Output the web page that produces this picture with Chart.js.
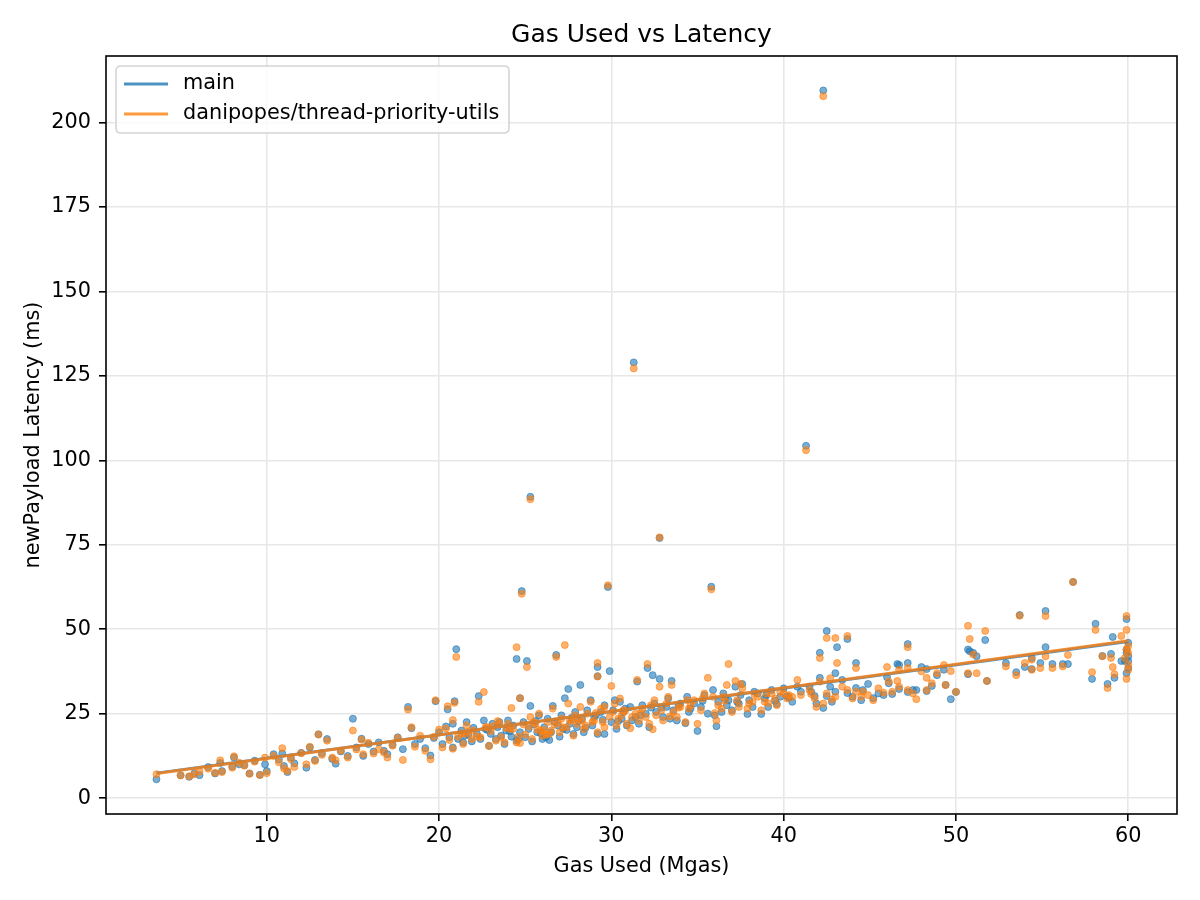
<!DOCTYPE html>
<html>
<head>
<meta charset="utf-8">
<script src="https://cdn.jsdelivr.net/npm/chart.js@4"></script>
<style>
html,body{margin:0;padding:0;background:#fff;}
#wrap{width:1200px;height:900px;}
</style>
</head>
<body>
<div id="wrap"><canvas id="c" width="1200" height="900"></canvas></div>
<script>
// ---- data ----
const gas = [
3.6,5.0,5.5,5.8,6.1,6.6,7.0,7.3,7.4,8.0,8.4,8.1,8.7,9.0,9.3,9.6,9.9,10.0,10.4,10.7,
10.9,11.0,11.2,11.4,11.6,12.0,12.3,12.5,12.8,13.0,13.2,13.5,13.8,14.0,14.3,14.7,
15.0,15.2,15.5,15.6,15.9,16.2,16.5,16.8,17.0,17.3,17.6,17.9,18.2,18.4,18.6,18.9,19.2,19.5,19.7,19.8,
20.0,20.2,20.4,20.5,20.6,20.8,20.8,20.9,21.0,21.1,21.3,21.4,21.6,21.7,21.9,22.0,22.2,22.3,22.4,22.6,22.7,22.9,
23.0,23.1,23.3,23.4,23.6,23.8,23.9,24.0,24.2,24.3,24.5,24.5,24.7,24.7,24.8,24.9,25.0,25.1,25.2,25.3,25.3,25.4,
25.6,25.7,25.8,26.0,26.1,26.3,26.4,26.5,26.6,26.8,26.9,27.0,27.1,27.2,27.3,27.5,27.6,27.8,27.9,28.0,
28.2,28.3,28.4,28.6,28.8,28.9,29.0,29.2,29.2,29.2,29.4,29.6,29.6,29.8,29.9,30.0,30.1,30.2,30.3,30.5,
30.6,30.7,30.9,31.1,31.3,31.4,31.5,31.6,31.8,32.0,32.1,32.2,32.4,32.5,32.6,32.8,32.8,33.0,33.2,33.3,
33.5,33.6,33.8,34.0,34.3,34.4,34.6,34.8,35.0,35.2,35.4,35.6,35.8,35.9,36.1,36.2,36.4,36.5,36.7,36.8,
37.0,37.2,37.4,37.5,37.6,37.9,38.0,38.2,38.5,38.7,38.9,39.1,39.3,39.6,39.8,40.0,40.2,40.5,40.8,41.0,
41.3,41.5,41.8,41.9,42.1,42.1,42.3,42.3,42.5,42.5,42.7,43.0,43.0,43.1,43.4,43.7,43.7,44.0,44.2,44.2,
44.5,44.9,45.2,45.5,46.0,46.1,46.3,46.6,46.7,46.7,47.2,47.2,47.2,47.5,47.7,48.0,48.3,48.3,48.6,48.9,
49.3,49.4,49.7,50.0,50.7,50.7,50.8,51.0,51.2,51.7,51.8,52.9,53.5,53.7,54.0,54.4,54.4,54.9,55.2,55.2,
55.6,56.2,56.5,56.8,57.9,58.1,58.5,58.8,59.0,59.1,59.2,59.6,59.8,59.9,59.9,59.9,59.9,60.0,60.0,60.0,60.0,
21.5,22.8,23.5,24.1,24.6,25.5,25.9,26.2,26.7,27.4,27.7,28.1,28.5,29.1,29.5,30.4,30.8,31.2,31.7,32.3,
32.9,33.4,33.9,34.5,35.3,36.0,36.6,37.3,38.3,39.0,39.5,40.3,41.6,42.8,44.6,45.8
];
const latencyMain = [
5.6,6.8,6.3,7.4,6.8,9.2,7.3,10.4,8.0,9.4,10.0,12.0,9.8,7.3,11.1,6.9,10.0,8.0,13.0,11.4,
13.2,9.5,7.7,12.0,10.3,13.4,9.0,15.0,11.3,18.9,13.3,17.5,11.6,10.2,13.8,12.5,
23.5,15.0,17.6,12.5,16.0,13.8,16.5,14.0,13.0,15.8,18.0,14.5,27.0,20.7,16.0,17.5,14.8,12.6,17.8,28.7,
19.5,16.0,21.2,26.3,18.0,15.0,22.0,28.7,44.1,17.5,20.0,16.5,22.5,18.8,16.8,20.8,19.0,30.2,17.5,23.0,20.5,15.5,
19.0,22.0,17.5,21.0,18.5,16.0,20.0,23.0,18.2,21.5,41.2,17.0,29.6,19.5,61.3,22.5,18.0,40.6,20.5,89.2,27.3,16.8,
22.8,19.5,24.5,17.5,21.0,23.5,17.2,19.5,27.3,42.4,21.5,18.2,24.5,20.5,29.6,32.3,22.0,19.0,25.5,21.0,
33.5,23.5,19.5,26.0,29.0,21.5,24.0,38.8,36.1,19.0,25.5,19.0,27.5,62.5,37.6,22.5,26.0,29.0,20.5,28.5,
23.5,25.5,21.5,27.0,129.0,24.0,34.5,22.0,27.5,25.0,38.5,21.0,36.4,28.0,25.5,77.0,35.3,24.0,27.0,29.5,
34.7,26.0,23.0,28.0,22.2,30.0,26.5,28.0,19.9,27.0,30.5,25.0,62.6,32.0,21.3,28.5,25.5,31.0,27.5,29.0,
26.0,33.0,28.0,30.5,33.8,24.9,29.0,27.0,31.0,24.9,29.5,27.0,32.0,27.9,30.0,32.5,30.2,28.5,33.0,31.5,
104.3,33.0,30.2,28.0,43.0,35.6,209.5,26.7,49.5,30.2,33.0,37.0,31.5,44.7,35.0,47.1,31.1,30.0,40.0,32.6,
29.0,33.8,29.6,31.0,35.8,34.0,30.8,39.7,32.3,39.4,45.6,40.0,31.4,32.0,32.0,38.8,38.2,31.7,33.2,36.4,
38.0,33.5,29.3,31.4,44.0,36.7,43.5,43.0,42.0,46.8,34.7,40.0,37.3,54.2,38.8,38.2,41.5,40.0,55.4,44.7,
39.7,39.7,39.7,64.0,35.3,51.6,42.1,33.8,42.7,47.7,35.6,40.6,40.6,53.0,44.0,37.0,43.0,40.6,38.5,46.0,42.0,
18.5,20.2,22.5,19.8,17.5,21.8,19.2,18.0,22.6,20.2,23.8,22.8,20.8,24.5,23.2,22.8,26.5,23.0,24.5,26.8,
26.8,23.5,27.5,25.5,28.8,24.5,29.5,28.5,31.5,30.5,28.8,29.8,31.5,28.5,32.0,30.5
];
const latencyBranch = [
7.1,6.7,6.5,7.0,7.8,8.7,7.5,11.2,7.7,9.0,10.5,12.4,9.6,7.2,10.8,6.8,12.0,7.4,12.5,10.6,
14.8,8.8,8.0,11.5,9.2,13.3,10.0,15.2,11.0,18.8,12.8,17.0,12.0,11.2,14.0,12.0,
20.0,14.4,17.3,13.0,16.4,13.2,14.5,13.5,12.0,15.5,17.8,11.3,26.2,21.0,15.2,18.5,14.0,11.5,18.2,29.0,
20.3,15.0,20.6,27.2,17.2,14.6,23.1,28.2,41.8,18.2,19.2,16.0,21.5,19.6,17.5,20.0,18.2,28.5,18.0,31.4,21.0,15.4,
19.8,21.2,17.0,22.8,18.0,16.5,20.8,22.0,26.7,20.5,44.7,16.5,29.6,16.3,60.5,21.8,18.8,38.8,21.2,88.5,24.0,17.5,
22.0,20.3,25.0,18.5,20.2,22.5,19.0,20.0,26.5,41.8,22.3,19.5,23.5,21.0,45.3,28.0,23.0,18.5,24.5,22.0,
27.0,23.0,20.5,25.0,28.5,22.5,23.0,40.0,36.0,19.5,26.5,21.0,27.0,63.0,24.0,33.2,25.5,28.0,21.5,29.5,
24.5,26.0,22.0,20.7,127.2,25.0,35.0,23.0,26.5,24.0,39.7,22.0,20.4,29.0,24.5,77.2,33.0,23.0,28.0,30.0,
33.5,25.5,24.0,27.0,22.5,29.0,27.5,29.0,22.0,26.0,31.0,35.6,61.8,30.0,23.0,27.5,26.5,30.0,33.5,39.7,
25.5,34.7,27.0,33.8,32.5,26.5,28.0,28.5,30.0,26.0,28.5,28.1,31.0,27.5,31.5,31.0,29.5,30.0,35.0,30.5,
103.0,32.0,29.5,27.0,41.5,34.5,207.8,28.0,47.4,31.0,35.5,47.4,30.0,40.0,33.0,48.0,32.0,29.5,38.5,31.5,
30.0,30.5,29.0,32.5,38.8,34.5,31.5,34.7,33.0,38.0,44.7,38.5,32.0,31.0,29.3,37.5,35.6,32.0,34.0,37.0,
39.4,33.5,37.6,31.5,51.0,37.0,47.1,42.5,37.0,49.5,34.7,39.0,36.4,54.0,40.0,38.0,41.0,38.5,53.9,42.0,
38.5,39.0,42.4,64.0,37.3,49.8,42.0,32.6,41.5,38.8,36.7,48.0,41.5,53.9,49.8,35.3,44.0,39.5,38.0,45.0,43.0,
19.0,21.0,22.0,20.5,18.2,22.5,20.0,18.8,21.8,21.0,23.0,23.5,21.5,25.2,22.5,23.5,25.8,24.0,25.2,27.5,
26.0,24.2,26.8,26.5,29.5,25.2,28.8,29.0,30.8,31.0,29.5,30.5,30.8,29.2,31.5,31.2
];
// trend lines (end points)
const trendGas = [3.6, 60.0];
const trendMain = [7.4, 46.4];
const trendBranch = [7.3, 46.6];
// axes
const xTicks = [10, 20, 30, 40, 50, 60];
const yTicks = [0, 25, 50, 75, 100, 125, 150, 175, 200];
const xRange = [0.67, 62.83];
const yRange = [-4.7, 219.7];
const seriesNames = ['main', 'danipopes/thread-priority-utils'];
const titleText = 'Gas Used vs Latency';
const xLabel = 'Gas Used (Mgas)';
const yLabel = 'newPayload Latency (ms)';

// ---- build ----
const FONT = 'DejaVu Sans';
const FS = 20.8;
const BLUE = 'rgba(31,119,180,0.6)';
const ORANGE = 'rgba(255,127,14,0.6)';
const BLUE_L = 'rgba(31,119,180,0.8)';
const ORANGE_L = 'rgba(255,127,14,0.8)';

const ptsMain = gas.map((g, i) => ({x: g, y: latencyMain[i]}));
const ptsBranch = gas.map((g, i) => ({x: g, y: latencyBranch[i]}));
const lineMain = trendGas.map((g, i) => ({x: g, y: trendMain[i]}));
const lineBranch = trendGas.map((g, i) => ({x: g, y: trendBranch[i]}));

const framePlugin = {
  id: 'frame',
  afterDraw(chart) {
    const {ctx, chartArea: a} = chart;
    ctx.save();
    // frame
    ctx.strokeStyle = '#000';
    ctx.lineWidth = 1.6;
    ctx.strokeRect(a.left, a.top, a.right - a.left, a.bottom - a.top);
    // title
    ctx.fillStyle = '#000';
    ctx.font = '25px "' + FONT + '"';
    ctx.textAlign = 'center';
    ctx.textBaseline = 'middle';
    ctx.fillText(titleText, (a.left + a.right) / 2, 35);
    // legend
    const lx = 116, ly = 66, lw = 393, lh = 67, r = 5;
    ctx.beginPath();
    ctx.moveTo(lx + r, ly);
    ctx.lineTo(lx + lw - r, ly); ctx.quadraticCurveTo(lx + lw, ly, lx + lw, ly + r);
    ctx.lineTo(lx + lw, ly + lh - r); ctx.quadraticCurveTo(lx + lw, ly + lh, lx + lw - r, ly + lh);
    ctx.lineTo(lx + r, ly + lh); ctx.quadraticCurveTo(lx, ly + lh, lx, ly + lh - r);
    ctx.lineTo(lx, ly + r); ctx.quadraticCurveTo(lx, ly, lx + r, ly);
    ctx.closePath();
    ctx.fillStyle = 'rgba(255,255,255,0.8)';
    ctx.fill();
    ctx.strokeStyle = '#d5d5d5';
    ctx.lineWidth = 1.6;
    ctx.stroke();
    const colors = [BLUE_L, ORANGE_L];
    const rows = [84, 114];
    ctx.font = FS + 'px "' + FONT + '"';
    ctx.textAlign = 'left';
    ctx.textBaseline = 'middle';
    seriesNames.forEach((n, i) => {
      ctx.strokeStyle = colors[i];
      ctx.lineWidth = 3;
      ctx.beginPath();
      ctx.moveTo(124, rows[i]); ctx.lineTo(168, rows[i]);
      ctx.stroke();
      ctx.fillStyle = '#000';
      ctx.fillText(n, 183, rows[i]);
    });
    ctx.restore();
  }
};

const tickFont = {family: FONT, size: FS};
new Chart(document.getElementById('c'), {
  type: 'scatter',
  data: {
    datasets: [
      {label: seriesNames[0] + ' points', data: ptsMain, backgroundColor: BLUE, borderColor: BLUE,
       borderWidth: 1, pointRadius: 3.5, order: 4},
      {label: seriesNames[1] + ' points', data: ptsBranch, backgroundColor: ORANGE, borderColor: ORANGE,
       borderWidth: 1, pointRadius: 3.5, order: 3},
      {type: 'line', label: seriesNames[0], data: lineMain, borderColor: BLUE_L, borderWidth: 3,
       pointRadius: 0, fill: false, order: 2},
      {type: 'line', label: seriesNames[1], data: lineBranch, borderColor: ORANGE_L, borderWidth: 3,
       pointRadius: 0, fill: false, order: 1}
    ]
  },
  options: {
    responsive: false,
    animation: false,
    devicePixelRatio: 1,
    layout: {padding: {top: 56, right: 23, bottom: 0, left: 0}},
    plugins: {legend: {display: false}, title: {display: false}, tooltip: {enabled: false}},
    scales: {
      x: {
        type: 'linear', min: xRange[0], max: xRange[1],
        afterBuildTicks: s => { s.ticks = xTicks.map(v => ({value: v})); },
        afterFit: s => { s.height = 86; },
        ticks: {font: tickFont, color: '#000', padding: 3, callback: v => String(v), maxRotation: 0},
        grid: {color: '#e7e7e7', lineWidth: 1.6, tickColor: '#000', tickWidth: 1.6, tickLength: 7, drawTicks: true},
        border: {display: false},
        title: {display: true, text: xLabel, font: {family: FONT, size: FS}, color: '#000',
                padding: {top: 0, bottom: 21}}
      },
      y: {
        type: 'linear', min: yRange[0], max: yRange[1],
        afterBuildTicks: s => { s.ticks = yTicks.map(v => ({value: v})); },
        afterFit: s => { s.width = 106; },
        ticks: {font: tickFont, color: '#000', padding: 8, callback: v => String(v)},
        grid: {color: '#e7e7e7', lineWidth: 1.6, tickColor: '#000', tickWidth: 1.6, tickLength: 7, drawTicks: true},
        border: {display: false},
        title: {display: true, text: yLabel, font: {family: FONT, size: FS}, color: '#000',
                padding: {top: 21, bottom: 0}}
      }
    }
  },
  plugins: [framePlugin]
});
</script>
</body>
</html>
